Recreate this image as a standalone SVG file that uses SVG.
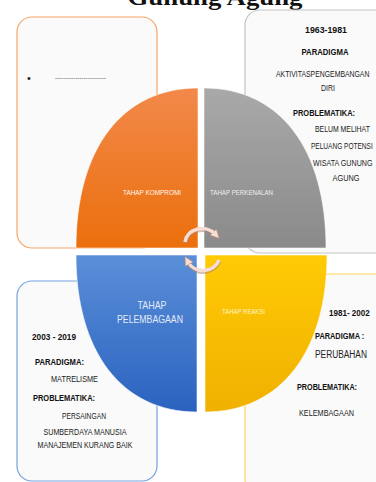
<svg xmlns="http://www.w3.org/2000/svg" width="376" height="482" viewBox="0 0 376 482">
<defs>
<linearGradient id="gOr" x1="0" y1="0" x2="0" y2="1"><stop offset="0" stop-color="#f2894a"/><stop offset="1" stop-color="#eb6f0c"/></linearGradient>
<linearGradient id="gGr" x1="0" y1="0" x2="0" y2="1"><stop offset="0" stop-color="#a9a9a9"/><stop offset="1" stop-color="#8a8a8a"/></linearGradient>
<linearGradient id="gBl" x1="0" y1="0" x2="0" y2="1"><stop offset="0" stop-color="#5a8fd8"/><stop offset="1" stop-color="#2b62bf"/></linearGradient>
<linearGradient id="gYe" x1="0" y1="0" x2="0" y2="1"><stop offset="0" stop-color="#ffcb05"/><stop offset="1" stop-color="#f0b000"/></linearGradient>
<marker id="ah" viewBox="0 0 10 10" refX="3" refY="5" markerWidth="9" markerHeight="9" markerUnits="userSpaceOnUse" orient="auto">
<path d="M0,0 L10,5 L0,10 Z" fill="#f7ddd3" stroke="#b88a7a" stroke-width="0.8"/>
</marker>
<style>
.box{fill:#fafafa;stroke-width:1.2}
.t{font-family:"Liberation Sans Narrow","Liberation Sans",Arial,sans-serif;font-size:8.5px;fill:#222}
.b{font-weight:bold;fill:#111}
.q{font-size:8px}
.wo{fill:#fff6ee}
.wg{fill:#eeeeee}
.wb{fill:#e2eaf8;font-size:10.5px}
.wy{fill:#fff4c8}
.seg{stroke:#ffffff;stroke-opacity:0.55;stroke-width:1}
.arw{fill:none;stroke:#f7ddd3;stroke-width:3.5;marker-end:url(#ah)}
.arws{fill:none;stroke:#a98676;stroke-opacity:0.55;stroke-width:5}
</style>
</defs>
<rect width="376" height="482" fill="#ffffff"/>
<text x="215" y="5" text-anchor="middle" font-family="'Liberation Serif',serif" font-weight="bold" font-size="24" textLength="175" lengthAdjust="spacingAndGlyphs" fill="#111">Gunung Agung</text>

<g id="box-kompromi">
<rect class="box" x="17" y="17" width="140" height="231" rx="15" stroke="#f5a668"/>
<text class="t" x="27" y="82" style="font-size:11px">•</text>
<text class="t" x="55" y="80" textLength="51" lengthAdjust="spacingAndGlyphs" style="font-size:5px">-------------------------</text>
</g>
<g id="box-perkenalan">
<rect class="box" x="245" y="10" width="150" height="243" rx="15" stroke="#c4c4c4"/>
<text class="t b" x="326" y="33" text-anchor="middle" textLength="42" lengthAdjust="spacingAndGlyphs">1963-1981</text>
<text class="t b" x="325" y="55" text-anchor="middle" textLength="47" lengthAdjust="spacingAndGlyphs">PARADIGMA</text>
<text class="t" transform="translate(276,77) scale(0.81,1)">AKTIVITASPENGEMBANGAN</text>
<text class="t" x="328" y="91" text-anchor="middle" textLength="14" lengthAdjust="spacingAndGlyphs">DIRI</text>
<text class="t b" x="293" y="116" textLength="62" lengthAdjust="spacingAndGlyphs">PROBLEMATIKA:</text>
<text class="t" transform="translate(315,132) scale(0.81,1)">BELUM  MELIHAT</text>
<text class="t" transform="translate(311,149) scale(0.77,1)">PELUANG  POTENSI</text>
<text class="t" transform="translate(313,166) scale(0.84,1)">WISATA GUNUNG</text>
<text class="t" x="346" y="181" text-anchor="middle" textLength="27" lengthAdjust="spacingAndGlyphs">AGUNG</text>
</g>
<g id="box-pelembagaan">
<rect class="box" x="17" y="281" width="140" height="200" rx="15" stroke="#75a2e0"/>
<text class="t b" x="32" y="340" textLength="44" lengthAdjust="spacingAndGlyphs">2003 - 2019</text>
<text class="t b" x="35" y="365" textLength="49" lengthAdjust="spacingAndGlyphs">PARADIGMA:</text>
<text class="t" x="51" y="382" textLength="47" lengthAdjust="spacingAndGlyphs">MATRELISME</text>
<text class="t b" x="33" y="401" textLength="62" lengthAdjust="spacingAndGlyphs">PROBLEMATIKA:</text>
<text class="t" x="84" y="419" text-anchor="middle" textLength="44" lengthAdjust="spacingAndGlyphs">PERSAINGAN</text>
<text class="t" x="85" y="435" text-anchor="middle" textLength="83" lengthAdjust="spacingAndGlyphs">SUMBERDAYA MANUSIA</text>
<text class="t" x="85" y="448" text-anchor="middle" textLength="95" lengthAdjust="spacingAndGlyphs">MANAJEMEN KURANG BAIK</text>
</g>
<g id="box-reaksi">
<rect class="box" x="245" y="274" width="150" height="220" rx="15" stroke="#ffd55a"/>
<text class="t b" transform="translate(329,316) scale(0.95,1)">1981- 2002</text>
<text class="t b" transform="translate(315,339) scale(0.87,1)">PARADIGMA  :</text>
<text class="t" transform="translate(315,358) scale(0.76,1)" style="font-size:11px">PERUBAHAN</text>
<text class="t b" x="297" y="390" textLength="60" lengthAdjust="spacingAndGlyphs">PROBLEMATIKA:</text>
<text class="t" x="299" y="416" textLength="55" lengthAdjust="spacingAndGlyphs">KELEMBAGAAN</text>
</g>

<g id="seg-kompromi">
<path class="seg" d="M198,248 L76,248 C76,149 122,88 198,88 Z" fill="url(#gOr)"/>
<text class="t q wo" x="152" y="195" text-anchor="middle" textLength="58" lengthAdjust="spacingAndGlyphs">TAHAP KOMPROMI</text>
</g>
<g id="seg-perkenalan">
<path class="seg" d="M204,88 C280,88 326,149 326,248 L204,248 Z" fill="url(#gGr)"/>
<text class="t q wg" x="210" y="195" textLength="63" lengthAdjust="spacingAndGlyphs">TAHAP PERKENALAN</text>
</g>
<g id="seg-pelembagaan">
<path class="seg" d="M76,255 L197,255 L197,412 C122,412 76,352 76,255 Z" fill="url(#gBl)"/>
<text class="t wb" x="152" y="309" text-anchor="middle" textLength="29" lengthAdjust="spacingAndGlyphs">TAHAP</text>
<text class="t wb" x="150" y="323" text-anchor="middle" textLength="66" lengthAdjust="spacingAndGlyphs">PELEMBAGAAN</text>
</g>
<g id="seg-reaksi">
<path class="seg" d="M205,255 L327,255 C327,352 280,412 205,412 Z" fill="url(#gYe)"/>
<text class="t q wy" x="222" y="314" textLength="43" lengthAdjust="spacingAndGlyphs">TAHAP REAKSI</text>
</g>

<g id="connectors">
<path class="arws" d="M185,243 A17,15 0 0 1 215,235"/>
<path class="arw" d="M185,242 A17,15 0 0 1 215,234"/>
<path class="arws" d="M219,261 A17,16 0 0 1 188,263"/>
<path class="arw" d="M219,260 A17,16 0 0 1 188,262"/>
</g>
</svg>
